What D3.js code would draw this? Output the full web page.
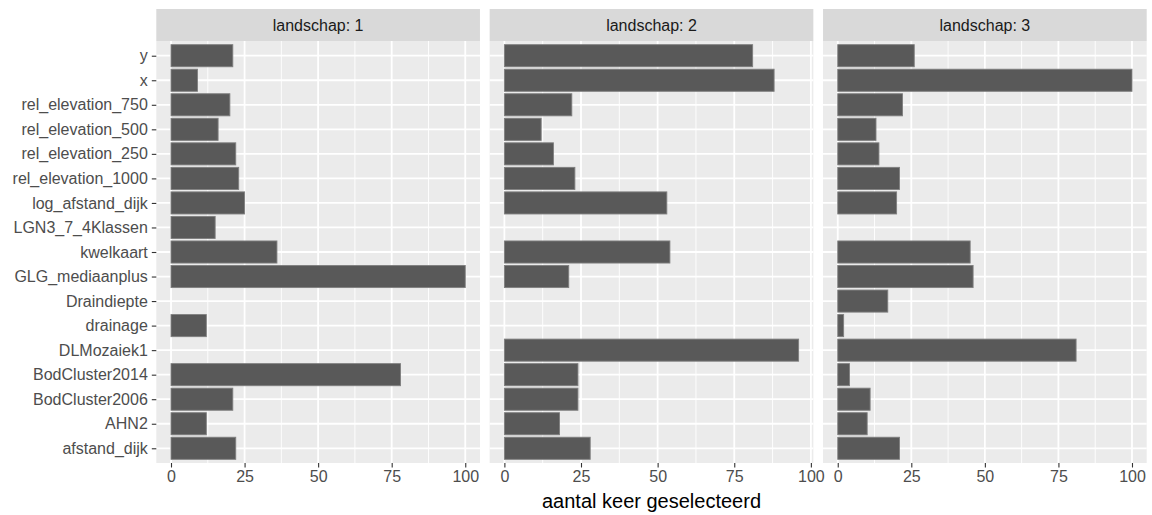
<!DOCTYPE html>
<html>
<head>
<meta charset="utf-8">
<script src="https://cdn.jsdelivr.net/npm/d3@7"></script>
<style>
  body { margin:0; background:#fff; }
  text { font-family: "Liberation Sans", Arial, sans-serif; }
</style>
</head>
<body>
<div id="chart"></div>
<script>
// variabelen, van boven naar onder zoals in de plot
var variabelen = ["y", "x", "rel_elevation_750", "rel_elevation_500", "rel_elevation_250",
  "rel_elevation_1000", "log_afstand_dijk", "LGN3_7_4Klassen", "kwelkaart",
  "GLG_mediaanplus", "Draindiepte", "drainage", "DLMozaiek1", "BodCluster2014",
  "BodCluster2006", "AHN2", "afstand_dijk"];

// aantal keer geselecteerd per landschap (null = geen balk)
var landschap1 = [21, 9, 20, 16, 22, 23, 25, 15, 36, 100, null, 12, null, 78, 21, 12, 22];
var landschap2 = [81, 88, 22, 12, 16, 23, 53, null, 54, 21, null, null, 96, 24, 24, 18, 28];
var landschap3 = [26, 100, 22, 13, 14, 21, 20, null, 45, 46, 17, 2, 81, 4, 11, 10, 21];

var panelNamen = ["landschap: 1", "landschap: 2", "landschap: 3"];
var ticks = [0, 25, 50, 75, 100];
var minorTicks = [12.5, 37.5, 62.5, 87.5];
var xTitel = "aantal keer geselecteerd";

var w = 1152, h = 515;
var left = 156.3, right = 1146.7, gap = 9.7;
var stripTop = 9, stripH = 32;
var plotTop = stripTop + stripH, plotBottom = 463;
var pw = (right - left - 2*gap) / 3;

var svg = d3.select("#chart")
  .append("svg")
  .attr("width", w)
  .attr("height", h);

var y = d3.scalePoint()
  .domain(variabelen)
  .range([plotTop, plotBottom])
  .padding(0.6);
var barH = y.step() * 0.9;

var data = [landschap1, landschap2, landschap3];

data.forEach(function(vals, p) {
  var x0 = left + p*(pw + gap);
  var mx = d3.max(vals);
  var x = d3.scaleLinear()
    .domain([-0.05*mx, mx*1.05])
    .range([x0, x0 + pw]);

  var g = svg.append("g");

  // achtergrond
  g.append("rect")
    .attr("x", x0).attr("y", plotTop)
    .attr("width", pw).attr("height", plotBottom - plotTop)
    .style("fill", "#ebebeb");

  // grid
  g.selectAll(".minor")
    .data(minorTicks.filter(function(d) { return x(d) <= x0 + pw; }))
    .enter().append("line")
    .attr("x1", function(d) { return x(d); })
    .attr("x2", function(d) { return x(d); })
    .attr("y1", plotTop).attr("y2", plotBottom)
    .style("stroke", "#fff").style("stroke-width", 0.9);
  g.selectAll(".hmajor")
    .data(variabelen)
    .enter().append("line")
    .attr("x1", x0).attr("x2", x0 + pw)
    .attr("y1", function(d) { return y(d); })
    .attr("y2", function(d) { return y(d); })
    .style("stroke", "#fff").style("stroke-width", 1.8);
  g.selectAll(".vmajor")
    .data(ticks.filter(function(d) { return x(d) <= x0 + pw; }))
    .enter().append("line")
    .attr("x1", function(d) { return x(d); })
    .attr("x2", function(d) { return x(d); })
    .attr("y1", plotTop).attr("y2", plotBottom)
    .style("stroke", "#fff").style("stroke-width", 1.8);

  // balken
  g.selectAll(".bar")
    .data(vals.map(function(v, i) { return {v: v, naam: variabelen[i]}; })
      .filter(function(d) { return d.v != null; }))
    .enter().append("rect")
    .attr("x", x(0))
    .attr("y", function(d) { return y(d.naam) - barH/2; })
    .attr("width", function(d) { return x(d.v) - x(0); })
    .attr("height", barH)
    .style("fill", "#595959")
    .style("stroke", "#7f7f7f")
    .style("stroke-width", 0.9);

  // strip
  g.append("rect")
    .attr("x", x0).attr("y", stripTop)
    .attr("width", pw).attr("height", stripH)
    .style("fill", "#d9d9d9");
  g.append("text")
    .attr("x", x0 + pw/2).attr("y", stripTop + stripH/2)
    .attr("dy", "0.35em")
    .attr("text-anchor", "middle")
    .style("font-size", "16px")
    .style("fill", "#1a1a1a")
    .text(panelNamen[p]);

  // x-as
  var xa = g.append("g")
    .attr("transform", "translate(0," + plotBottom + ")")
    .call(d3.axisBottom(x).tickValues(ticks).tickSize(4.5).tickPadding(3.5));
  xa.select(".domain").remove();
  xa.selectAll("line").style("stroke", "#333").style("stroke-width", 1.1);
  xa.selectAll("text")
    .style("font-size", "16px")
    .style("font-family", "Liberation Sans, Arial, sans-serif")
    .style("fill", "#4d4d4d");

  // y-as alleen links
  if (p == 0) {
    var ya = g.append("g")
      .attr("transform", "translate(" + x0 + ",0)")
      .call(d3.axisLeft(y).tickSize(4.5).tickPadding(4));
    ya.select(".domain").remove();
    ya.selectAll("line").style("stroke", "#333").style("stroke-width", 1.1);
    ya.selectAll("text")
      .style("font-size", "16px")
      .style("font-family", "Liberation Sans, Arial, sans-serif")
      .style("fill", "#4d4d4d");
  }
});

svg.append("text")
  .attr("x", left + (right - left)/2)
  .attr("y", 508)
  .attr("text-anchor", "middle")
  .style("font-size", "20px")
  .style("fill", "#000")
  .text(xTitel);
</script>
</body>
</html>
